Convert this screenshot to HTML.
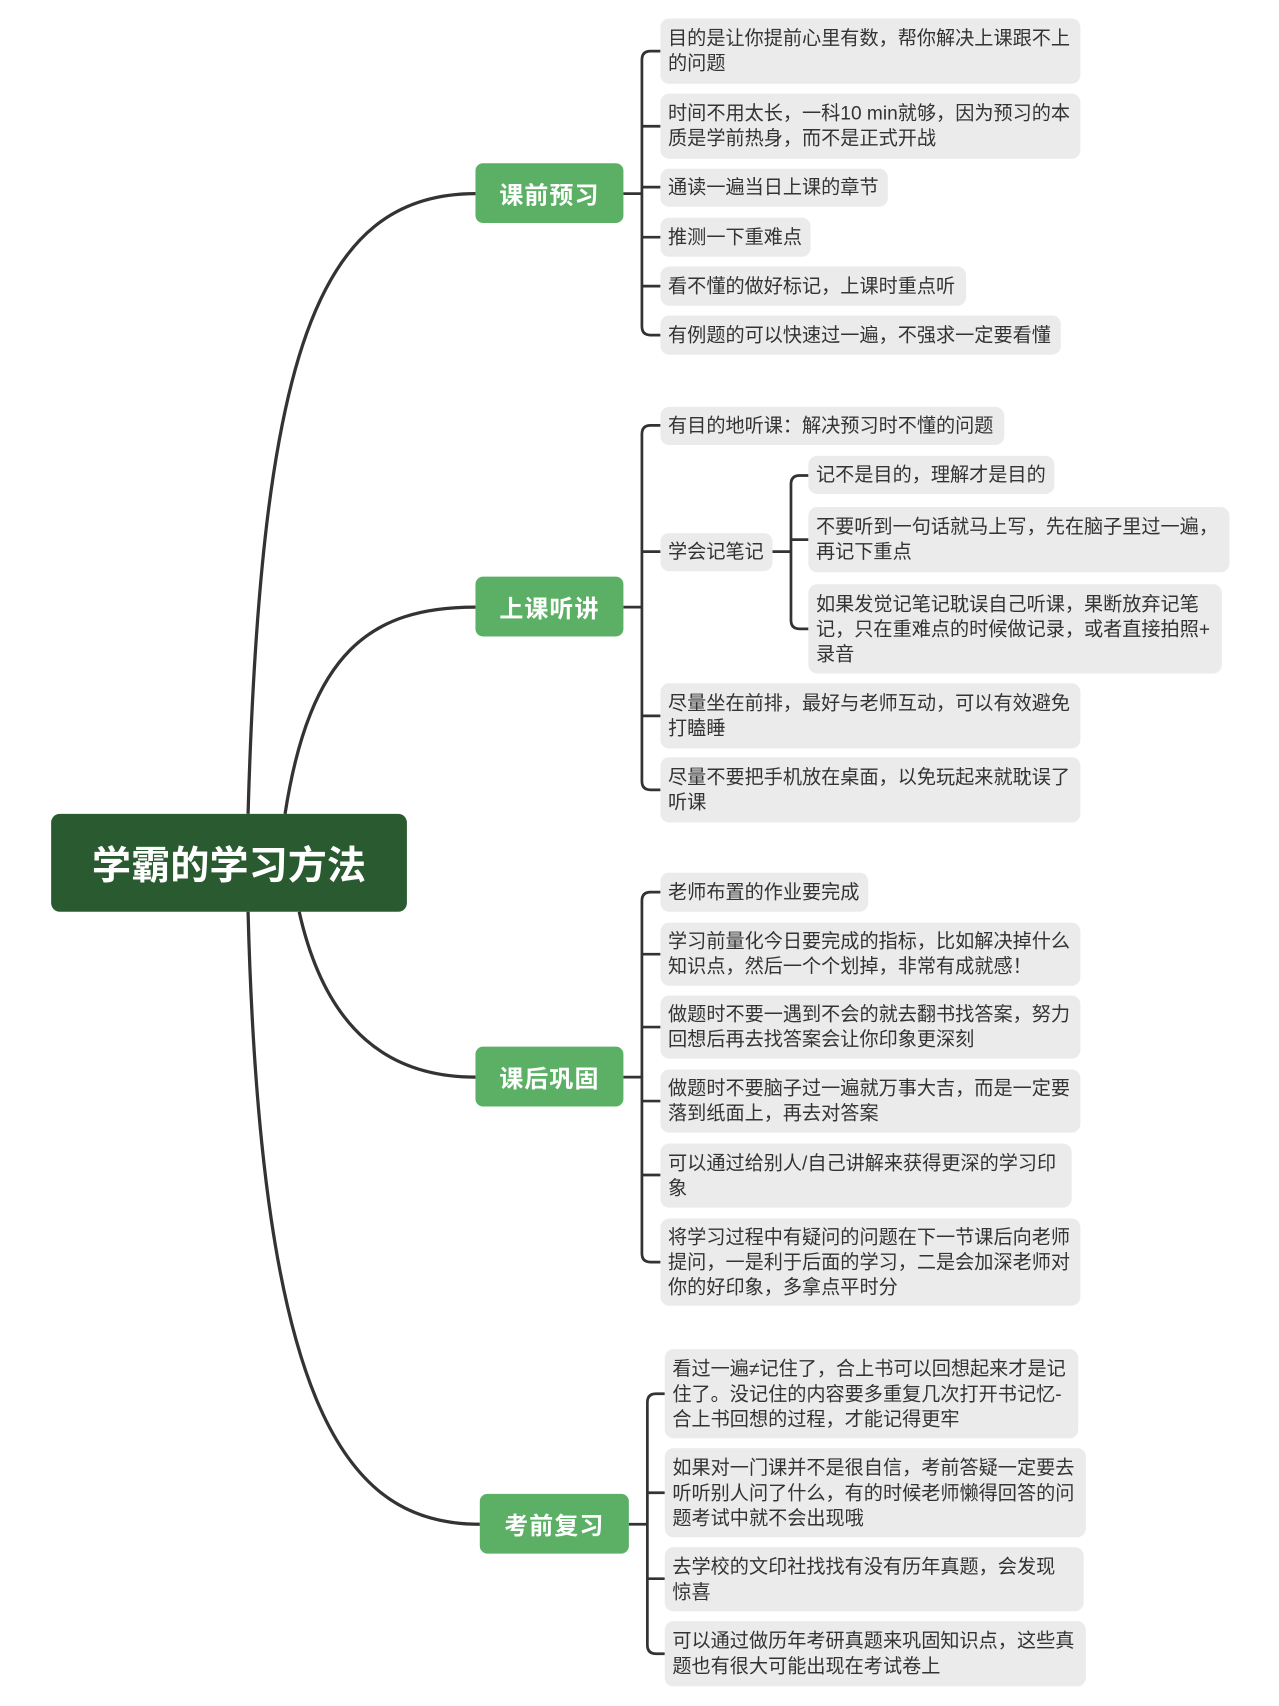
<!DOCTYPE html>
<html><head><meta charset="utf-8"><style>
html,body{margin:0;padding:0;background:#fff;overflow:hidden}
#w{position:absolute;left:0;top:0;width:1176px;height:1568px;transform:scale(1.088);transform-origin:0 0;font-family:"Liberation Sans","Noto Sans CJK SC",sans-serif}
.l{position:absolute;background:#ebebeb;border-radius:8px;color:#333;font-size:17.6px;line-height:23px;padding:0 7px;box-sizing:border-box;white-space:nowrap;display:flex;align-items:center}
.b{position:absolute;background:#5cb065;border-radius:7px;color:#fff;font-weight:bold;font-size:22px;display:flex;align-items:center;justify-content:center;letter-spacing:1px}
svg{position:absolute;left:0;top:0}
</style></head><body><div id="w">
<svg width="1176" height="1568" fill="none" stroke="#333" stroke-width="2.5">
<g stroke-width="3">
<path d="M228,748 C240,330 290,178 437,178"/>
<path d="M262,748 C285,600 340,558 437,558"/>
<path d="M275,838 C300,950 360,990 437,990"/>
<path d="M228,838 C240,1300 320,1401 441,1401"/>
</g>
<path d="M573,178H590M573,558H590M573,990H590M578,1401H595M710,507H727"/>
<path d="M607,47H598Q590,47 590,55V300Q590,308 598,308H607M590,116H607M590,172H607M590,218H607M590,263H607"/>
<path d="M607,391H598Q590,391 590,399V718Q590,726 598,726H607M590,507H607M590,658H607"/>
<path d="M743,437H735Q727,437 727,445V570Q727,578 735,578H743M727,496H743"/>
<path d="M607,820H598Q590,820 590,828V1152Q590,1160 598,1160H607M590,877H607M590,944H607M590,1012H607M590,1080H607"/>
<path d="M611,1281H603Q595,1281 595,1289V1512Q595,1520 603,1520H611M595,1372H611M595,1451H611"/>
</svg>
<div style="position:absolute;left:47px;top:748px;width:327px;height:90px;background:#2a5a30;border-radius:8px;color:#fff;font-weight:bold;font-size:36px;display:flex;align-items:center;justify-content:center">学霸的学习方法</div>
<div class="b" style="left:437px;top:150px;width:136px;height:55px">课前预习</div>
<div class="b" style="left:437px;top:530px;width:136px;height:55px">上课听讲</div>
<div class="b" style="left:437px;top:962px;width:136px;height:55px">课后巩固</div>
<div class="b" style="left:441px;top:1373px;width:137px;height:55px">考前复习</div>

<div class="l" style="left:607px;top:17px;width:386px;height:60px">目的是让你提前心里有数，帮你解决上课跟不上<br>的问题</div>
<div class="l" style="left:607px;top:86px;width:386px;height:60px">时间不用太长，一科10 min就够，因为预习的本<br>质是学前热身，而不是正式开战</div>
<div class="l" style="left:607px;top:155px;width:209px;height:35px">通读一遍当日上课的章节</div>
<div class="l" style="left:607px;top:200px;width:138px;height:36px">推测一下重难点</div>
<div class="l" style="left:607px;top:245px;width:281px;height:36px">看不懂的做好标记，上课时重点听</div>
<div class="l" style="left:607px;top:290px;width:368px;height:36px">有例题的可以快速过一遍，不强求一定要看懂</div>

<div class="l" style="left:607px;top:374px;width:316px;height:35px">有目的地听课：解决预习时不懂的问题</div>
<div class="l" style="left:607px;top:490px;width:103px;height:35px">学会记笔记</div>
<div class="l" style="left:743px;top:419px;width:226px;height:35px">记不是目的，理解才是目的</div>
<div class="l" style="left:743px;top:466px;width:387px;height:60px">不要听到一句话就马上写，先在脑子里过一遍，<br>再记下重点</div>
<div class="l" style="left:743px;top:537px;width:380px;height:82px">如果发觉记笔记耽误自己听课，果断放弃记笔<br>记，只在重难点的时候做记录，或者直接拍照+<br>录音</div>
<div class="l" style="left:607px;top:628px;width:386px;height:60px">尽量坐在前排，最好与老师互动，可以有效避免<br>打瞌睡</div>
<div class="l" style="left:607px;top:696px;width:386px;height:60px">尽量不要把手机放在桌面，以免玩起来就耽误了<br>听课</div>

<div class="l" style="left:607px;top:802px;width:191px;height:36px">老师布置的作业要完成</div>
<div class="l" style="left:607px;top:848px;width:386px;height:58px">学习前量化今日要完成的指标，比如解决掉什么<br>知识点，然后一个个划掉，非常有成就感！</div>
<div class="l" style="left:607px;top:915px;width:386px;height:58px">做题时不要一遇到不会的就去翻书找答案，努力<br>回想后再去找答案会让你印象更深刻</div>
<div class="l" style="left:607px;top:983px;width:386px;height:58px">做题时不要脑子过一遍就万事大吉，而是一定要<br>落到纸面上，再去对答案</div>
<div class="l" style="left:607px;top:1051px;width:378px;height:59px">可以通过给别人/自己讲解来获得更深的学习印<br>象</div>
<div class="l" style="left:607px;top:1120px;width:386px;height:80px">将学习过程中有疑问的问题在下一节课后向老师<br>提问，一是利于后面的学习，二是会加深老师对<br>你的好印象，多拿点平时分</div>

<div class="l" style="left:611px;top:1240px;width:380px;height:82px">看过一遍≠记住了，合上书可以回想起来才是记<br>住了。没记住的内容要多重复几次打开书记忆-<br>合上书回想的过程，才能记得更牢</div>
<div class="l" style="left:611px;top:1331px;width:387px;height:82px">如果对一门课并不是很自信，考前答疑一定要去<br>听听别人问了什么，有的时候老师懒得回答的问<br>题考试中就不会出现哦</div>
<div class="l" style="left:611px;top:1422px;width:385px;height:59px">去学校的文印社找找有没有历年真题，会发现<br>惊喜</div>
<div class="l" style="left:611px;top:1490px;width:387px;height:60px">可以通过做历年考研真题来巩固知识点，这些真<br>题也有很大可能出现在考试卷上</div>
</div></body></html>
